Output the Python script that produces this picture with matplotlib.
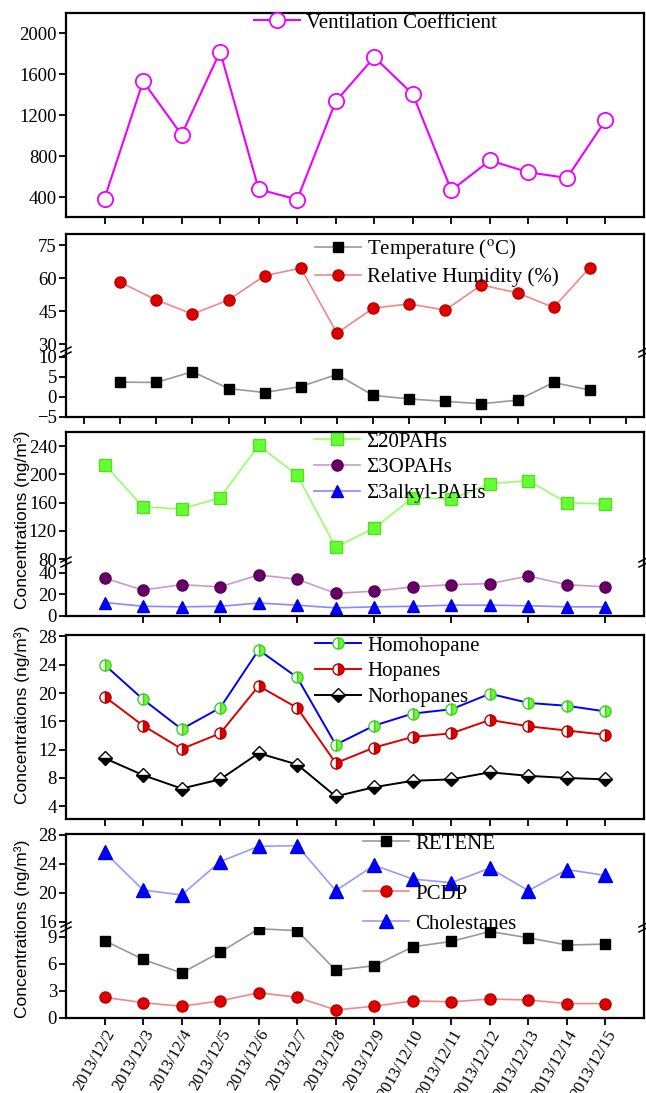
import matplotlib
matplotlib.use("Agg")
import matplotlib.pyplot as plt
from matplotlib.lines import Line2D

plt.rcParams['font.family'] = ['Liberation Serif', 'DejaVu Serif']
plt.rcParams['mathtext.fontset'] = 'stix'

dates = ["2013/12/2", "2013/12/3", "2013/12/4", "2013/12/5", "2013/12/6", "2013/12/7",
         "2013/12/8", "2013/12/9", "2013/12/10", "2013/12/11", "2013/12/12",
         "2013/12/13", "2013/12/14", "2013/12/15"]
x = list(range(len(dates)))

ventilation = [390, 1530, 1010, 1820, 480, 380, 1335, 1765, 1405, 470, 760, 645, 590, 1150]
temperature = [3.7, 3.6, 6.3, 2.1, 1.1, 2.6, 5.6, 0.4, -0.5, -1.1, -1.7, -0.8, 3.6, 1.7]
humidity = [58.1, 50.1, 43.7, 50.1, 61.1, 64.5, 35.0, 46.4, 48.3, 45.5, 56.9, 53.3, 46.7, 64.8]
pahs20 = [214, 154, 151, 167, 241, 199, 97, 124, 167, 165, 187, 191, 160, 158]
opahs3 = [35, 24, 29, 27, 38, 34, 21, 23, 27, 29, 30, 37, 29, 27]
alkyl3 = [12.5, 9, 8.5, 9, 12, 10, 7.5, 8.5, 9, 10, 10, 9.5, 8.5, 8.5]
homohopane = [24.0, 19.1, 14.9, 17.9, 26.1, 22.2, 12.7, 15.4, 17.1, 17.7, 19.9, 18.6, 18.2, 17.4]
hopanes = [19.5, 15.4, 12.1, 14.3, 21.0, 17.9, 10.1, 12.3, 13.8, 14.3, 16.2, 15.3, 14.7, 14.1]
norhopanes = [10.8, 8.4, 6.5, 7.8, 11.5, 9.9, 5.4, 6.7, 7.6, 7.8, 8.8, 8.3, 8.0, 7.8]
retene = [8.6, 6.5, 5.0, 7.3, 9.9, 9.7, 5.3, 5.8, 7.9, 8.5, 9.6, 8.9, 8.1, 8.2]
pcdp = [2.3, 1.7, 1.3, 1.9, 2.8, 2.3, 0.9, 1.3, 1.9, 1.8, 2.1, 2.0, 1.6, 1.6]
cholestanes = [25.6, 20.4, 19.7, 24.3, 26.4, 26.5, 20.3, 23.8, 21.9, 21.4, 23.4, 20.3, 23.2, 22.4]

W, H = 646, 1093
fig = plt.figure(figsize=(W / 100, H / 100), dpi=100)
LEFT, RIGHT = 66, 644


def add_ax(top, bottom):
    ax = fig.add_axes([LEFT / W, 1 - bottom / H, (RIGHT - LEFT) / W, (bottom - top) / H])
    for s in ax.spines.values():
        s.set_linewidth(1.6)
    ax.tick_params(direction='out', length=5, width=1.3, labelsize=13.5, pad=1.5)
    return ax


def break_marks(y):
    # small double slash on both vertical spines
    for xp in (LEFT, RIGHT):
        for d in (-2.5, 2.5):
            fig.add_artist(Line2D([(xp - 5) / W, (xp + 5) / W],
                                  [1 - (y + d + 2.5) / H, 1 - (y + d - 2.5) / H],
                                  color='black', lw=1.1))


def broken(top, mid, bottom):
    up = add_ax(top, mid)
    low = add_ax(mid, bottom)
    up.spines['bottom'].set_visible(False)
    low.spines['top'].set_visible(False)
    up.tick_params(bottom=False, labelbottom=False)
    break_marks(mid)
    return up, low


def legend_at(ax, handles, labels, xpix, ypix, spacing=0.3):
    leg = ax.legend(handles, labels, loc='upper left', frameon=False, fontsize=15,
                    bbox_to_anchor=(xpix / W, 1 - ypix / H), bbox_transform=fig.transFigure,
                    handlelength=2.2, handletextpad=0.3, labelspacing=spacing,
                    borderaxespad=0, borderpad=0)
    leg.set_zorder(10)
    return leg


# Panel 1: ventilation coefficient
ax1 = add_ax(13, 217)
ax1.plot(x, ventilation, color='#EE00FF', lw=1.5, marker='o', ms=11,
         mfc='white', mec='#EE00FF', mew=1.3, label='Ventilation Coefficient')
ax1.set_xlim(-1, 14)
ax1.set_ylim(210, 2195)
ax1.set_yticks([400, 800, 1200, 1600, 2000])
ax1.set_xticks(x)
ax1.set_xticklabels([])
legend_at(ax1, *ax1.get_legend_handles_labels(), 254, 13)

# Panel 2: temperature / humidity
ax2u, ax2l = broken(234, 352, 417)
h_rh, = ax2u.plot(x, humidity, color='#F08888', lw=1.2, marker='o', ms=8,
                  mfc='#DD0000', mec='#BB0000')
h_t, = ax2l.plot(x, temperature, color='#999999', lw=1.2, marker='s', ms=7,
                 mfc='black', mec='black')
for a in (ax2u, ax2l):
    a.set_xlim(-1.5, 14.5)
ax2u.set_ylim(26.5, 80)
ax2u.set_yticks([30, 45, 60, 75])
ax2l.set_ylim(-5, 11.2)
ax2l.set_yticks([-5, 0, 5, 10])
ax2l.set_xticks(range(-1, 15))
ax2l.set_xticklabels([])
legend_at(ax2u, [h_t, h_rh], ['Temperature ($^{\\mathrm{o}}$C)', 'Relative Humidity (%)'], 315, 237)

# Panel 3: PAHs
ax3u, ax3l = broken(432, 562, 616)
h_p20, = ax3u.plot(x, pahs20, color='#99FF66', lw=1.2, marker='s', ms=8,
                   mfc='#66FF33', mec='#55DD22')
h_o3, = ax3l.plot(x, opahs3, color='#CC99CC', lw=1.2, marker='o', ms=8,
                  mfc='#660066', mec='#550055')
h_a3, = ax3l.plot(x, alkyl3, color='#8888FF', lw=1.2, marker='^', ms=9,
                  mfc='#0000FF', mec='#0000DD')
for a in (ax3u, ax3l):
    a.set_xlim(-1, 14)
ax3u.set_ylim(76, 260)
ax3u.set_yticks([80, 120, 160, 200, 240])
ax3l.set_ylim(0, 50)
ax3l.set_yticks([0, 20, 40])
ax3l.set_xticks(x[1::2])
ax3l.set_xticklabels([])
legend_at(ax3u, [h_p20, h_o3, h_a3], ['\u03a320PAHs', '\u03a33OPAHs', '\u03a33alkyl-PAHs'], 314, 432)

# Panel 4: hopanes
ax4 = add_ax(635, 819)
ax4.plot(x, homohopane, color='#0000FF', lw=1.4, marker='o', ms=8, fillstyle='right',
         mfc='#66FF33', mfcalt='white', mec='#44CC22', label='Homohopane')
ax4.plot(x, hopanes, color='#DD0000', lw=1.4, marker='o', ms=8, fillstyle='right',
         mfc='#DD0000', mfcalt='white', mec='#BB0000', label='Hopanes')
ax4.plot(x, norhopanes, color='black', lw=1.4, marker='D', ms=7, fillstyle='bottom',
         mfc='black', mfcalt='white', mec='black', label='Norhopanes')
ax4.set_xlim(-1, 14)
ax4.set_ylim(2.2, 28.2)
ax4.set_yticks([4, 8, 12, 16, 20, 24, 28])
ax4.set_xticks(x)
ax4.set_xticklabels([])
legend_at(ax4, *ax4.get_legend_handles_labels(), 315, 636)

# Panel 5: retene / PCDP / cholestanes
ax5u, ax5l = broken(834, 927, 1018)
h_ch, = ax5u.plot(x, cholestanes, color='#9999FF', lw=1.2, marker='^', ms=10,
                  mfc='#0000FF', mec='#0000DD')
h_re, = ax5l.plot(x, retene, color='#999999', lw=1.2, marker='s', ms=7,
                  mfc='black', mec='black')
h_pc, = ax5l.plot(x, pcdp, color='#F08888', lw=1.2, marker='o', ms=8,
                  mfc='#DD0000', mec='#BB0000')
for a in (ax5u, ax5l):
    a.set_xlim(-1, 14)
ax5u.set_ylim(15.3, 28.1)
ax5u.set_yticks([16, 20, 24, 28])
ax5l.set_ylim(0, 10.1)
ax5l.set_yticks([0, 3, 6, 9])
ax5l.set_xticks(x)
ax5l.set_xticklabels(dates, rotation=60, ha='right', rotation_mode='anchor', fontsize=12)
legend_at(ax5u, [h_re], ['RETENE'], 363, 834)
legend_at(ax5l, [h_pc, h_ch], ['PCDP', 'Cholestanes'], 363, 884, spacing=0.5)

# shared y labels
for yc in (520, 715, 929):
    fig.text(22 / W, 1 - yc / H, 'Concentrations (ng/m\u00b3)',
             rotation=90, va='center', ha='center', fontsize=12.5, family='Liberation Sans')

fig.savefig('out.png', dpi=100)
